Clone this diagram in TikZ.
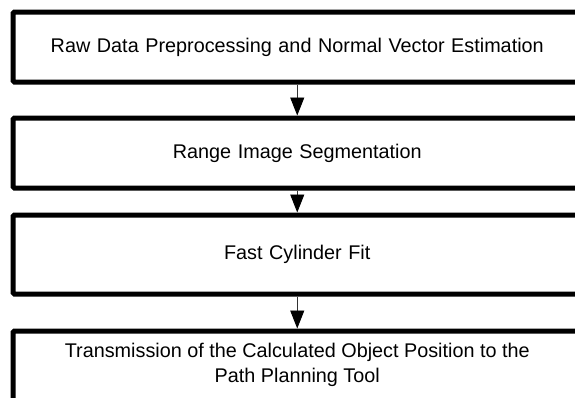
\documentclass[tikz,border=0pt]{standalone}
\usepackage{fontspec}
\setmainfont{Liberation Sans}
\usetikzlibrary{arrows.meta}
\begin{document}
\begin{tikzpicture}[x=1pt,y=-1pt,
  stepbox/.style={draw=black,line width=5pt,rounded corners=1.5pt,fill=white,
    minimum width=568.5pt,inner sep=0pt,anchor=north west,
    font=\fontsize{19.8pt}{25pt}\selectfont,align=center,text width=560pt},
  flow/.style={draw=black!80,line width=0.9pt,-{Triangle[width=14pt,length=18pt,color=black]}}]
\useasboundingbox (0,0) rectangle (575,397);
\clip (0,0) rectangle (575,397);
\node[stepbox,minimum height=70pt] (b1) at (10.5,9.5) {Raw Data Preprocessing and Normal Vector Estimation};
\node[stepbox,minimum height=70pt] (b2) at (10.5,115.5) {Range Image Segmentation};
\node[stepbox,minimum height=79pt] (b3) at (10.5,212.5) {Fast Cylinder Fit};
\node[stepbox,minimum height=70pt,anchor=north west] (b4) at (10.5,328.5) {};
\node[font=\fontsize{19.8pt}{25pt}\selectfont,align=center,anchor=north,inner sep=0pt] (t4) at (b4.north) [yshift=-14pt] {Transmission of the Calculated Object Position to the\\Path Planning Tool};
\draw[flow] (b1) -- (b2);
\draw[flow] (b2) -- (b3);
\draw[flow] (b3) -- (b4);
\end{tikzpicture}
\end{document}
